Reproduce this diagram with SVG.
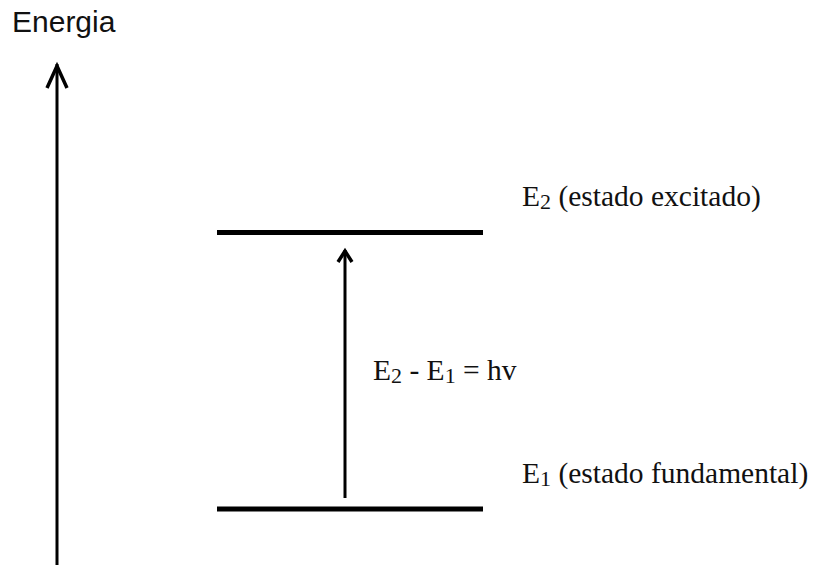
<svg xmlns="http://www.w3.org/2000/svg" width="814" height="565" viewBox="0 0 814 565">
<style>
.lvl{stroke:#000;stroke-width:5;fill:none}
.ax{stroke:#000;stroke-width:3;fill:none}
.head{stroke:#000;stroke-width:3.5;fill:none;stroke-linejoin:miter}
.sans{font-family:"Liberation Sans",Arial,sans-serif;font-size:30px;fill:#111}
.serif{font-family:"Liberation Serif","Times New Roman",serif;font-size:29.5px;fill:#111}
.sub{font-size:22px}
</style>
<rect width="814" height="565" fill="#fff"/>
<g id="connectors">
<g id="energy-axis">
<line class="ax" x1="57" y1="64" x2="57" y2="565"/>
<polyline class="head" points="47,88 57,66 67,88"/>
</g>
<g id="transition">
<line class="ax" x1="345" y1="250" x2="345" y2="498"/>
<polyline class="head" points="338,262 345,251 352,262"/>
</g>
</g>
<g id="title"><text class="sans" x="12" y="32">Energia</text></g>
<g id="E2-level">
<line class="lvl" x1="217" y1="232.5" x2="483" y2="232.5"/>
<text class="serif" x="522" y="206">E<tspan class="sub" dy="3">2</tspan><tspan dy="-3"> (estado excitado)</tspan></text>
</g>
<g id="E1-level">
<line class="lvl" x1="217" y1="509" x2="483" y2="509"/>
<text class="serif" x="522" y="483">E<tspan class="sub" dy="3">1</tspan><tspan dy="-3"> (estado fundamental)</tspan></text>
</g>
<g id="delta-label">
<text class="serif" x="373" y="380">E<tspan class="sub" dy="3">2</tspan><tspan dy="-3"> - E</tspan><tspan class="sub" dy="3">1</tspan><tspan dy="-3"> = hv</tspan></text>
</g>
</svg>
